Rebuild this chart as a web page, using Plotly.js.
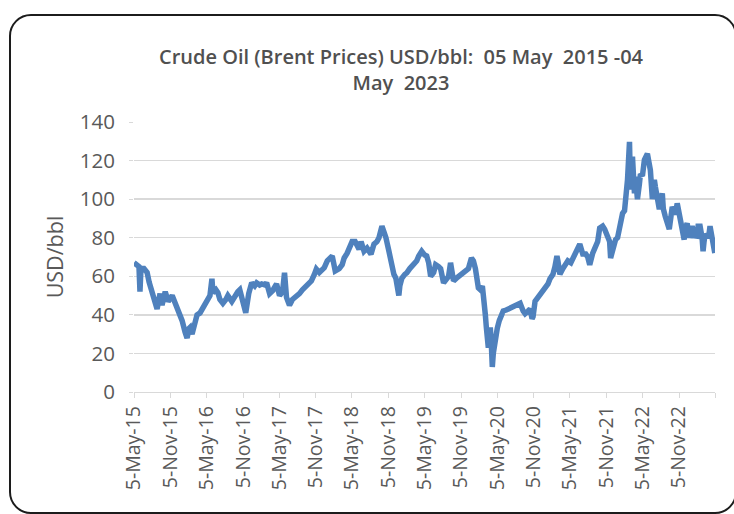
<!DOCTYPE html>
<html>
<head>
<meta charset="utf-8">
<script src="https://cdn.plot.ly/plotly-3.0.1.min.js"></script>
<style>
  html, body { margin:0; padding:0; width:734px; height:514px; overflow:hidden; background:#ffffff; }
  #frame { position:absolute; left:9px; top:14px; width:724px; height:496px; border:2px solid #1c1c1c; border-radius:22px; }
  #chart { position:absolute; left:0; top:0; width:734px; height:514px; }
</style>
</head>
<body>
<div id="frame"></div>
<div id="chart"></div>
<script>
// Brent price readings (USD/bbl)
const dates = [
"2015-05-05","2015-05-20","2015-05-30","2015-06-04","2015-06-09","2015-06-24","2015-07-10","2015-07-20","2015-08-09","2015-08-19",
"2015-08-29","2015-09-13","2015-09-23","2015-10-09","2015-10-24","2015-11-13","2015-11-28","2015-12-08","2015-12-23","2016-01-02",
"2016-01-17","2016-01-27","2016-02-06","2016-02-11","2016-02-21","2016-02-26","2016-03-07","2016-03-17","2016-04-01","2016-04-16",
"2016-05-06","2016-05-21","2016-05-31","2016-06-05","2016-06-20","2016-06-30","2016-07-10","2016-07-25","2016-08-09","2016-08-19",
"2016-09-08","2016-09-23","2016-10-08","2016-10-18","2016-11-02","2016-11-17","2016-12-02","2016-12-17","2017-01-01","2017-01-11",
"2017-01-26","2017-02-05","2017-02-20","2017-03-02","2017-03-17","2017-04-01","2017-04-21","2017-05-06","2017-05-21","2017-05-31",
"2017-06-10","2017-06-25","2017-07-10","2017-07-25","2017-08-04","2017-08-14","2017-08-29","2017-09-08","2017-09-23","2017-10-13",
"2017-10-28","2017-11-07","2017-11-22","2017-12-07","2017-12-17","2018-01-01","2018-01-16","2018-01-26","2018-02-10","2018-03-02",
"2018-03-17","2018-03-27","2018-04-11","2018-04-26","2018-05-06","2018-05-21","2018-05-31","2018-06-10","2018-06-20","2018-07-05",
"2018-07-20","2018-07-30","2018-08-09","2018-08-24","2018-09-08","2018-09-18","2018-10-03","2018-10-13","2018-10-23","2018-11-07",
"2018-11-22","2018-12-02","2018-12-12","2018-12-22","2018-12-27","2019-01-01","2019-01-11","2019-01-26","2019-02-05","2019-02-20",
"2019-03-02","2019-03-17","2019-03-27","2019-04-06","2019-04-21","2019-05-06","2019-05-16","2019-05-26","2019-06-05","2019-06-20",
"2019-06-30","2019-07-15","2019-07-25","2019-08-09","2019-08-24","2019-09-03","2019-09-13","2019-09-28","2019-10-13","2019-10-23",
"2019-11-07","2019-11-17","2019-12-02","2019-12-12","2019-12-27","2020-01-06","2020-01-16","2020-01-26","2020-01-31","2020-02-10",
"2020-02-20","2020-02-25","2020-03-01","2020-03-06","2020-03-11","2020-03-16","2020-03-21","2020-03-26","2020-03-31","2020-04-05",
"2020-04-10","2020-04-15","2020-04-20","2020-04-25","2020-05-05","2020-05-15","2020-05-25","2020-06-04","2020-06-19","2020-06-29",
"2020-07-14","2020-07-24","2020-08-08","2020-08-18","2020-08-28","2020-09-12","2020-09-22","2020-10-07","2020-10-17","2020-10-27",
"2020-11-01","2020-11-11","2020-11-26","2020-12-06","2020-12-21","2020-12-31","2021-01-15","2021-01-25","2021-02-09","2021-02-19",
"2021-03-01","2021-03-06","2021-03-16","2021-03-31","2021-04-15","2021-04-25","2021-05-10","2021-05-20","2021-06-04","2021-06-14",
"2021-06-24","2021-07-09","2021-07-24","2021-08-03","2021-08-13","2021-08-28","2021-09-12","2021-09-22","2021-10-02","2021-10-17",
"2021-10-27","2021-11-11","2021-11-21","2021-11-26","2021-12-06","2021-12-21","2021-12-31","2022-01-10","2022-01-25","2022-02-04",
"2022-02-09","2022-02-19","2022-03-01","2022-03-06","2022-03-11","2022-03-16","2022-03-21","2022-03-26","2022-03-31","2022-04-10",
"2022-04-20","2022-04-25","2022-05-05","2022-05-15","2022-05-30","2022-06-09","2022-06-14","2022-06-24","2022-07-04","2022-07-09",
"2022-07-19","2022-07-29","2022-08-13","2022-08-18","2022-08-28","2022-09-07","2022-09-17","2022-10-02","2022-10-17","2022-10-27",
"2022-11-06","2022-11-11","2022-11-21","2022-12-01","2022-12-06","2022-12-16","2022-12-26","2023-01-10","2023-01-20","2023-02-04",
"2023-02-09","2023-02-19","2023-03-01","2023-03-06","2023-03-11","2023-03-16","2023-03-26","2023-04-05","2023-04-10","2023-04-20",
"2023-05-04"
];
const prices = [
67,66,65,52,64,64,62,57,50,47,
43,51,45,52,47,50,46,44,40,37,
31,28,33,33.5,30,32,37,40,41,44,
47,50,58.7,51.5,53,51.5,48,46,48,50,
47,50,52,53,47,41,51,56.6,55,56.6,
55.5,56,55.5,56.6,51,52.5,56,50,52,61.8,
49,45,48,49,50,51,53,54,56,57.6,
61,63.8,62,63,64.5,68,69,70.5,62.8,64,
66,69.5,72,75,78,78,75.6,74,78,73,
74.6,73,71.5,76.7,78,80,86,83,80,73,
64,61,59,54,50,55,59,61,61.8,64,
65,67,68,70.5,73,71,70.5,67,60,62,
66,65,64,56.6,59,60,67,57.6,59,60,
61,61.8,63,64,69.5,68,64,58,54,53,
55,50,47,40,33.5,28,23,26,33.5,25,
13,20,24,28,33,37,40,42,42.5,43,
44,45,45,46,46,42,40.6,42,43,38,
39,47,49,51,52,54,56,58.7,61,65,
70.5,68,61,64,66,68,67,69,73,74,
76.7,71.5,71.5,70,66,72,76.7,78,85,86,
84.4,80.8,78,69.5,74,79,80,86,92.6,94,
98.8,110,129.7,105,115,122,112,103,111.7,100,
108,113,112,120.4,123.5,118,115,100,110,106.5,
100,94.7,103,95,91,88,84.4,96,92,97.8,
92,87.5,82,79,85,87.5,80,86,81,80.8,
86,86,80,73,78,82,80,82,86,80,
72
];
const tickDates = ["2015-05-05","2015-11-05","2016-05-05","2016-11-05","2017-05-05","2017-11-05","2018-05-05","2018-11-05",
  "2019-05-05","2019-11-05","2020-05-05","2020-11-05","2021-05-05","2021-11-05","2022-05-05","2022-11-05","2023-05-05"];
const tickLabels = ["5-May-15","5-Nov-15","5-May-16","5-Nov-16","5-May-17","5-Nov-17","5-May-18","5-Nov-18",
  "5-May-19","5-Nov-19","5-May-20","5-Nov-20","5-May-21","5-Nov-21","5-May-22","5-Nov-22",""];

const trace = {
  x: dates, y: prices, type: "scatter", mode: "lines",
  line: {color: "#4F81BD", width: 5.5},
  hoverinfo: "skip"
};

const layout = {
  width: 734, height: 514,
  paper_bgcolor: "rgba(0,0,0,0)", plot_bgcolor: "rgba(0,0,0,0)",
  margin: {l: 134, r: 19, t: 122, b: 122},
  showlegend: false,
  title: {
    text: "Crude Oil (Brent Prices) USD/bbl:\u00A0 05 May\u00A0 2015 -04<br>May\u00A0 2023",
    font: {family: "Open Sans", size: 20, color: "#505050", weight: 600},
    x: 401/734, xref: "container", xanchor: "center",
    y: 1 - 64/514, yref: "container", yanchor: "top"
  },
  xaxis: {
    type: "date",
    range: ["2015-05-05", "2023-05-05"],
    tickmode: "array", tickvals: tickDates, ticktext: tickLabels,
    tickangle: -90,
    tickfont: {family: "Open Sans", size: 19.5, color: "#595959"},
    ticks: "outside", ticklen: 5, tickcolor: "#D9D9D9", tickwidth: 1,
    showline: true, linecolor: "#D9D9D9", linewidth: 1.3,
    showgrid: false, zeroline: false, fixedrange: true
  },
  yaxis: {
    range: [0, 140], dtick: 20, tick0: 0,
    tickfont: {family: "Open Sans", size: 20.5, color: "#595959"},
    ticks: "outside", ticklen: 4, tickcolor: "#D9D9D9",
    ticklabelstandoff: 10,
    showgrid: true, gridcolor: "#D9D9D9", gridwidth: 1.3,
    showline: false, zeroline: false, fixedrange: true,
    title: {text: "USD/bbl", font: {family: "Open Sans", size: 21.5, color: "#595959"}, standoff: 10}
  }
};

Plotly.newPlot("chart", [trace], layout, {displayModeBar: false, staticPlot: true});
</script>
</body>
</html>
